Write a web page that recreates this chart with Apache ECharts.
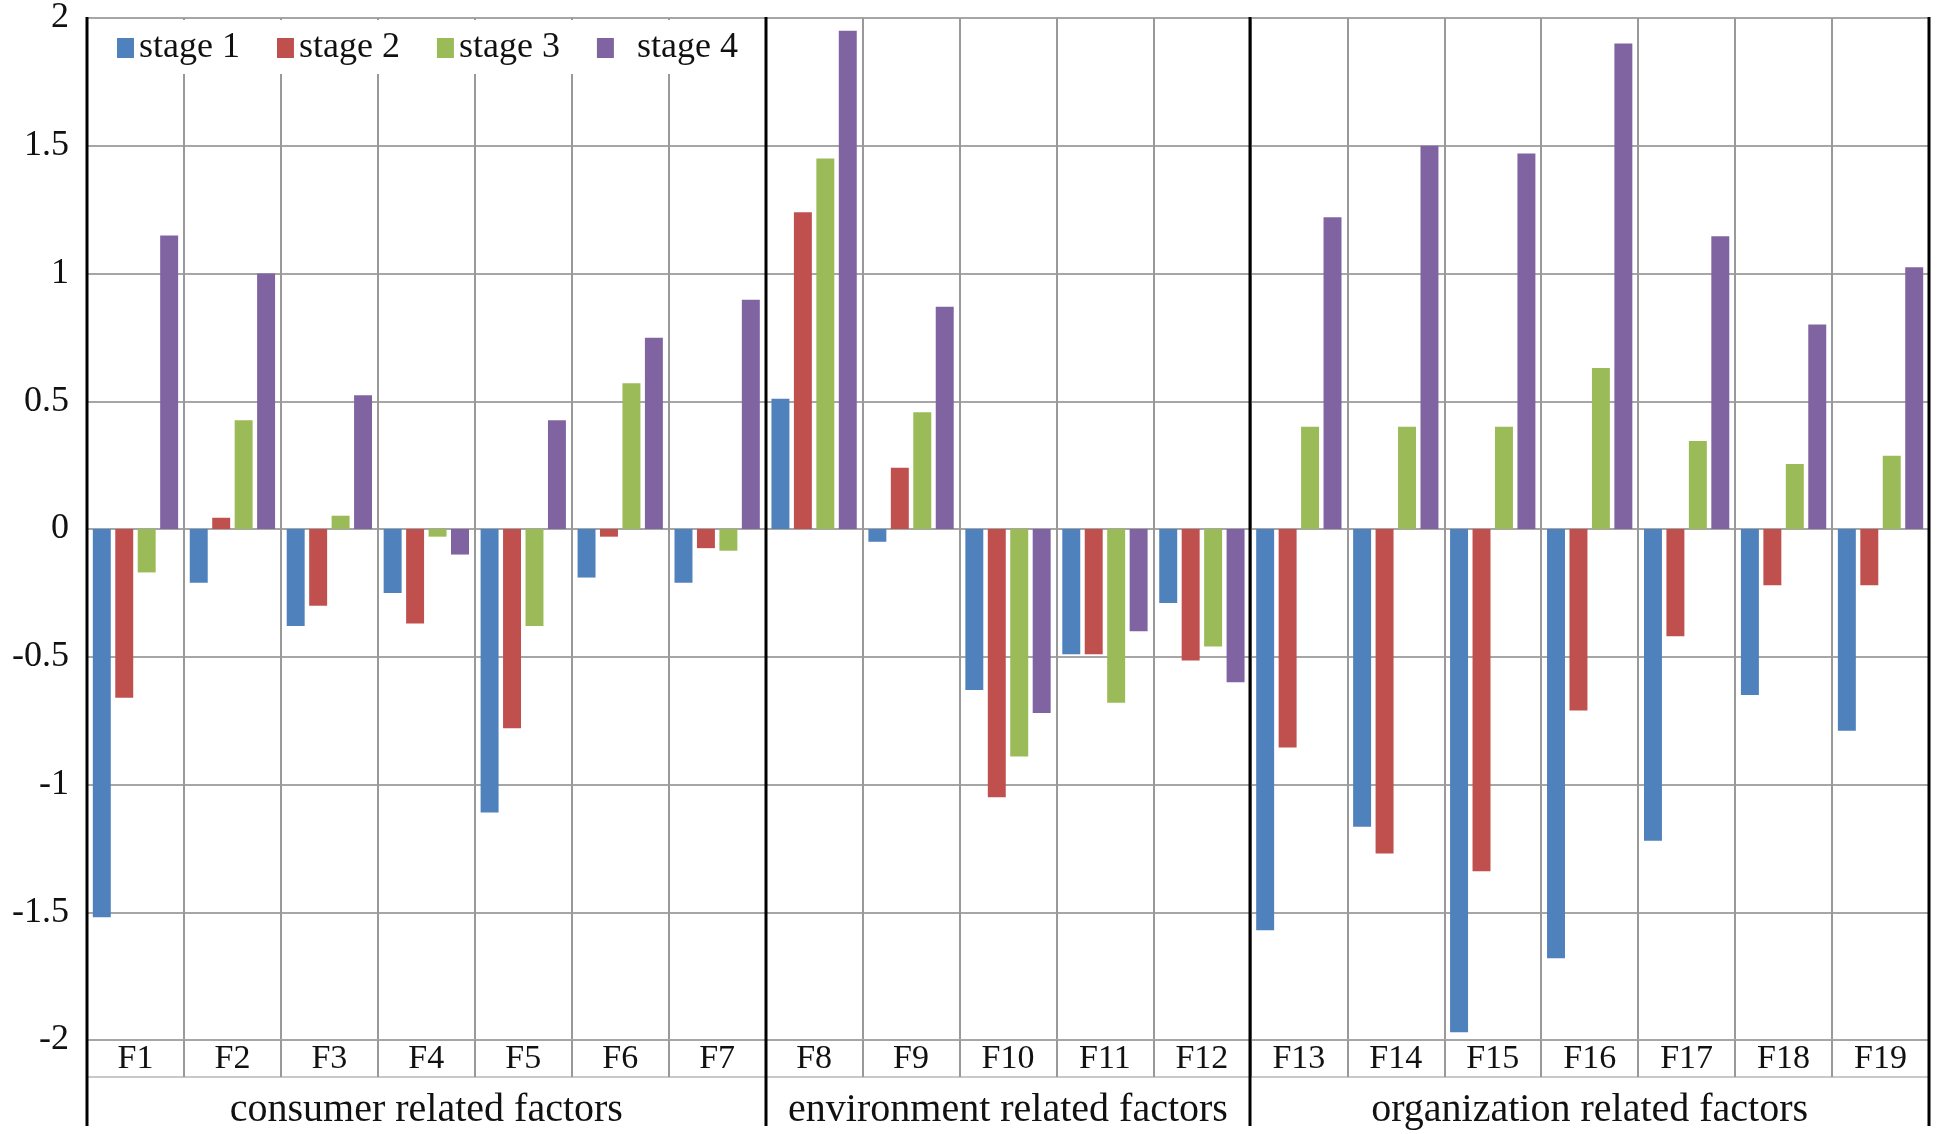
<!DOCTYPE html>
<html>
<head>
<meta charset="utf-8">
<script src="https://cdn.jsdelivr.net/npm/echarts@6/dist/echarts.min.js"></script>
<style>
html,body{margin:0;padding:0;background:#fff;}
#chart{width:1942px;height:1134px;}
</style>
</head>
<body>
<div id="chart"></div>
<script>
const categories = ['F1','F2','F3','F4','F5','F6','F7','F8','F9','F10','F11','F12','F13','F14','F15','F16','F17','F18','F19'];
const groupNames = ['consumer related factors','environment related factors','organization related factors'];
const groupSizes = [7, 5, 7];
const seriesNames = ['stage 1','stage 2','stage 3','stage 4'];
const stage1 = [-1.52, -0.21, -0.38, -0.25, -1.11, -0.19, -0.21, 0.51, -0.05, -0.63, -0.49, -0.29, -1.57, -1.165, -1.97, -1.68, -1.22, -0.65, -0.79];
const stage2 = [-0.66, 0.044, -0.30, -0.37, -0.78, -0.03, -0.075, 1.24, 0.24, -1.05, -0.49, -0.515, -0.855, -1.27, -1.34, -0.71, -0.42, -0.22, -0.22];
const stage3 = [-0.17, 0.426, 0.052, -0.03, -0.38, 0.57, -0.085, 1.45, 0.457, -0.89, -0.68, -0.46, 0.40, 0.40, 0.40, 0.63, 0.344, 0.254, 0.287];
const stage4 = [1.149, 1.0, 0.523, -0.10, 0.426, 0.749, 0.897, 1.95, 0.87, -0.72, -0.40, -0.60, 1.22, 1.50, 1.47, 1.90, 1.146, 0.80, 1.024];
const colors = ['#4F81BD','#C0504D','#9BBB59','#8064A2'];
const yTicks = { min: -2, max: 2, interval: 0.5 };

const FONT = '"Liberation Serif", "Times New Roman", serif';
const chart = echarts.init(document.getElementById('chart'));

// label index for each group = middle category of the group
const groupLabelAt = {};
let start = 0;
groupSizes.forEach((n, g) => { groupLabelAt[start + Math.floor(n / 2)] = groupNames[g]; start += n; });

const seriesData = [stage1, stage2, stage3, stage4];

chart.setOption({
  animation: false,
  backgroundColor: '#fff',
  color: colors,
  grid: { left: 87, right: 13, top: 17, bottom: 94, containLabel: false },
  legend: {
    left: 112, top: 25,
    itemWidth: 17, itemHeight: 20, itemGap: 37,
    icon: 'rect',
    z: 10,
    formatter: name => (name === 'stage 4' ? '  ' + name : name),
    textStyle: { fontFamily: FONT, fontSize: 36, color: '#111' },
    data: seriesNames
  },
  xAxis: [
    {
      type: 'category',
      data: categories,
      position: 'bottom',
      axisLine: { show: true, onZero: false, lineStyle: { color: '#a6a6a6', width: 2 } },
      axisTick: { show: true, length: 37, interval: 0, lineStyle: { color: '#999', width: 2 } },
      axisLabel: { interval: 0, margin: 2, fontFamily: FONT, fontSize: 34, color: '#111' },
      splitLine: { show: true, interval: 0, lineStyle: { color: '#999', width: 2 } }
    },
    {
      type: 'category',
      data: categories,
      position: 'bottom',
      offset: 37,
      axisLine: { show: true, onZero: false, lineStyle: { color: '#c8c8c8', width: 2 } },
      axisTick: { show: false },
      axisLabel: {
        interval: 0, margin: 13, fontFamily: FONT, fontSize: 40, color: '#111',
        formatter: (v, i) => groupLabelAt[i] || ''
      },
      splitLine: { show: false }
    }
  ],
  yAxis: {
    type: 'value',
    min: yTicks.min, max: yTicks.max, interval: yTicks.interval,
    axisLine: { show: false },
    axisTick: { show: false },
    axisLabel: { margin: 18, fontFamily: FONT, fontSize: 36, color: '#111' },
    splitLine: { show: true, lineStyle: { color: '#a6a6a6', width: 2 } }
  },
  series: seriesNames.map((name, k) => ({
    name: name,
    type: 'bar',
    xAxisIndex: 0,
    data: seriesData[k],
    barCategoryGap: '12%',
    barGap: '25%',
    itemStyle: { color: colors[k] }
  }))
});

// decorative separators derived from the axis scales
const xc0 = chart.convertToPixel({ xAxisIndex: 0 }, 0);
const xc1 = chart.convertToPixel({ xAxisIndex: 0 }, 1);
const bw = xc1 - xc0;
const boundary = i => xc0 - bw / 2 + i * bw;
const yTop = chart.convertToPixel({ yAxisIndex: 0 }, yTicks.max);
const yBot = chart.convertToPixel({ yAxisIndex: 0 }, yTicks.min);
const yEnd = yBot + 86;

const sepIdx = [0];
let acc = 0;
groupSizes.forEach(n => { acc += n; sepIdx.push(acc); });

const graphics = [];
// white box behind legend
graphics.push({
  type: 'rect', z: 3, silent: true,
  shape: { x: boundary(0) + 2, y: yTop + 2, width: boundary(7) - boundary(0) - 4, height: 54 },
  style: { fill: '#fff' }
});
sepIdx.forEach(i => {
  const x = Math.round(boundary(i));
  graphics.push({
    type: 'line', z: 20, silent: true,
    shape: { x1: x, y1: yTop - 1, x2: x, y2: yEnd },
    style: { stroke: '#000', lineWidth: 3 }
  });
});
chart.setOption({ graphic: graphics });
</script>
</body>
</html>
